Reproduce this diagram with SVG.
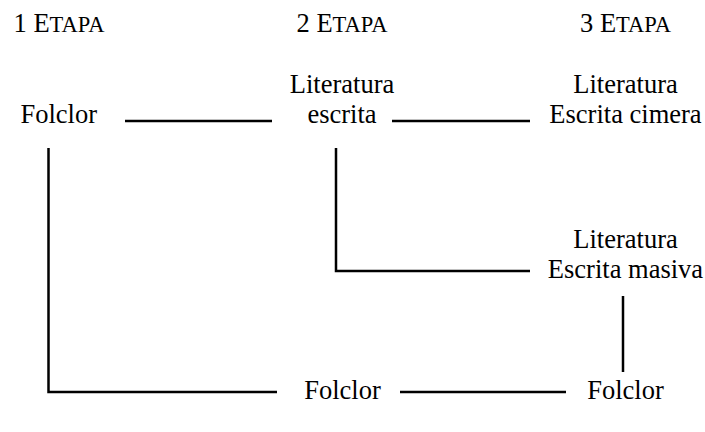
<svg xmlns="http://www.w3.org/2000/svg" width="705" height="432" viewBox="0 0 705 432">
<style>
  text { font-family: "Liberation Serif", "Times New Roman", serif; font-size: 26.5px; fill: #000; text-anchor: middle; }
  .sc { font-size: 22.5px; }
  .conn { stroke: #000; stroke-width: 2.5; fill: none; stroke-linecap: butt; }
</style>
<rect width="705" height="432" fill="#fff"/>
<g id="headers">
  <text x="59" y="32">1 E<tspan class="sc">TAPA</tspan></text>
  <text x="342" y="32">2 E<tspan class="sc">TAPA</tspan></text>
  <text x="625.5" y="32">3 E<tspan class="sc">TAPA</tspan></text>
</g>
<g id="connectors">
  <line class="conn" x1="125" y1="121" x2="272" y2="121"/>
  <line class="conn" x1="392" y1="121" x2="530" y2="121"/>
  <polyline class="conn" points="336,148 336,271 530,271"/>
  <polyline class="conn" points="48.5,148 48.5,392 277,392"/>
  <line class="conn" x1="623" y1="296" x2="623" y2="372"/>
  <line class="conn" x1="400" y1="392" x2="566" y2="392"/>
</g>
<g id="folclor1">
  <text x="58.7" y="123">Folclor</text>
</g>
<g id="literatura-escrita">
  <text x="342" y="93">Literatura</text>
  <text x="342" y="123">escrita</text>
</g>
<g id="literatura-cimera">
  <text x="625.5" y="93">Literatura</text>
  <text x="625.5" y="123">Escrita cimera</text>
</g>
<g id="literatura-masiva">
  <text x="625.5" y="248">Literatura</text>
  <text x="625.5" y="278">Escrita masiva</text>
</g>
<g id="folclor2">
  <text x="342.5" y="399">Folclor</text>
</g>
<g id="folclor3">
  <text x="625.5" y="399">Folclor</text>
</g>
</svg>
